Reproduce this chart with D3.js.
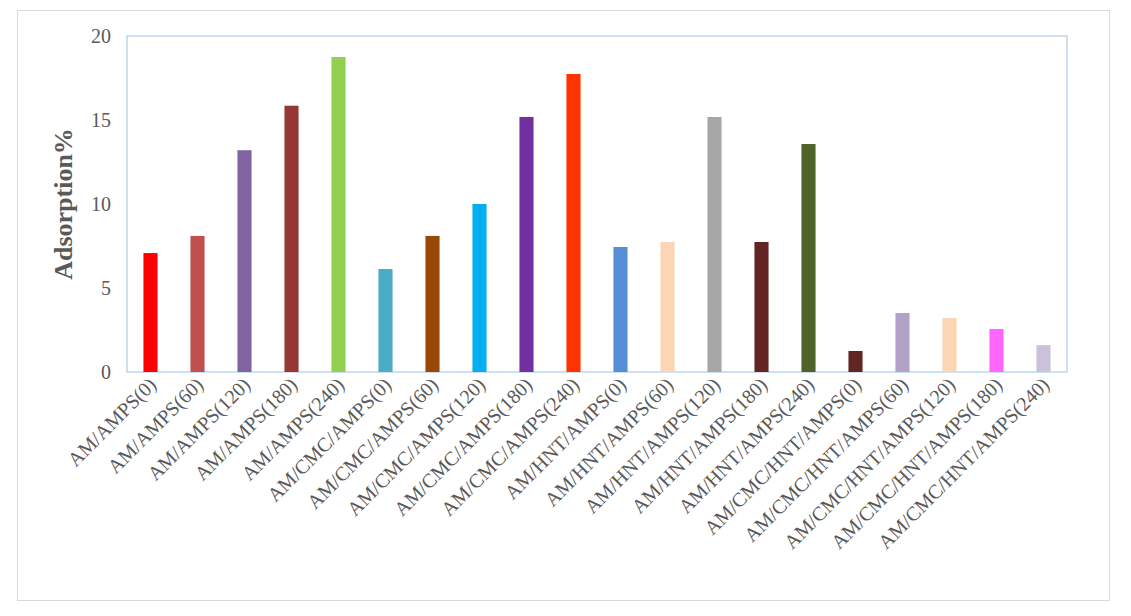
<!DOCTYPE html>
<html><head><meta charset="utf-8">
<script src="https://cdn.jsdelivr.net/npm/d3@7"></script>
<style>body{margin:0;background:#fff}</style></head>
<body><svg id="c" width="1131" height="616"></svg>
<script>
const categories=["AM/AMPS(0)","AM/AMPS(60)","AM/AMPS(120)","AM/AMPS(180)","AM/AMPS(240)","AM/CMC/AMPS(0)","AM/CMC/AMPS(60)","AM/CMC/AMPS(120)","AM/CMC/AMPS(180)","AM/CMC/AMPS(240)","AM/HNT/AMPS(0)","AM/HNT/AMPS(60)","AM/HNT/AMPS(120)","AM/HNT/AMPS(180)","AM/HNT/AMPS(240)","AM/CMC/HNT/AMPS(0)","AM/CMC/HNT/AMPS(60)","AM/CMC/HNT/AMPS(120)","AM/CMC/HNT/AMPS(180)","AM/CMC/HNT/AMPS(240)"];
const values=[7.08,8.1,13.2,15.85,18.75,6.13,8.1,10.0,15.18,17.74,7.44,7.74,15.18,7.74,13.57,1.25,3.51,3.21,2.56,1.6];
const colors=["#FF0000","#C0504D","#8064A2","#953735","#92D050","#4BACC6","#984807","#00B0F0","#7030A0","#FF3300","#558ED5","#FCD5B5","#A6A6A6","#632523","#4F6228","#632523","#B3A2C7","#FCD5B5","#FF66FF","#CCC1DA"];
const yTicks=[0,5,10,15,20];
const svg=d3.select("#c");
svg.append("rect").attr("x",17.5).attr("y",10.5).attr("width",1092).attr("height",590).attr("fill","none").attr("stroke","#d9d9d9");
const L=127,R=1067,T=36,B=372;
const x=d3.scaleBand().domain(categories).range([L,R]).paddingInner(0.7).paddingOuter(0.35);
const y=d3.scaleLinear().domain([0,20]).range([B,T]);
svg.append("rect").attr("x",L).attr("y",T).attr("width",R-L).attr("height",B-T).attr("fill","none").attr("stroke","#9DC3E6");
svg.selectAll(".bar").data(values).enter().append("rect")
 .attr("x",(d,i)=>x(categories[i])).attr("width",x.bandwidth())
 .attr("y",d=>y(d)).attr("height",d=>B-y(d)).attr("fill",(d,i)=>colors[i]);
const ya=svg.append("g").attr("transform",`translate(${L},0)`).call(d3.axisLeft(y).tickValues(yTicks).tickSize(0).tickPadding(16));
ya.select(".domain").remove();
ya.selectAll("text").attr("font-family","Liberation Serif").attr("font-size",20).attr("fill","#595959");
svg.selectAll(".xl").data(categories).enter().append("text")
 .attr("transform",d=>`translate(${x(d)+x.bandwidth()/2+7},${B+14}) rotate(-45)`)
 .attr("text-anchor","end").attr("font-family","Liberation Serif").attr("font-size",20).attr("fill","#595959").text(d=>d);
svg.append("text").attr("transform",`translate(72,${(T+B)/2}) rotate(-90)`).attr("text-anchor","middle")
 .attr("font-family","Liberation Serif").attr("font-weight","bold").attr("font-size",26).attr("fill","#595959").text("Adsorption%");
</script></body></html>
